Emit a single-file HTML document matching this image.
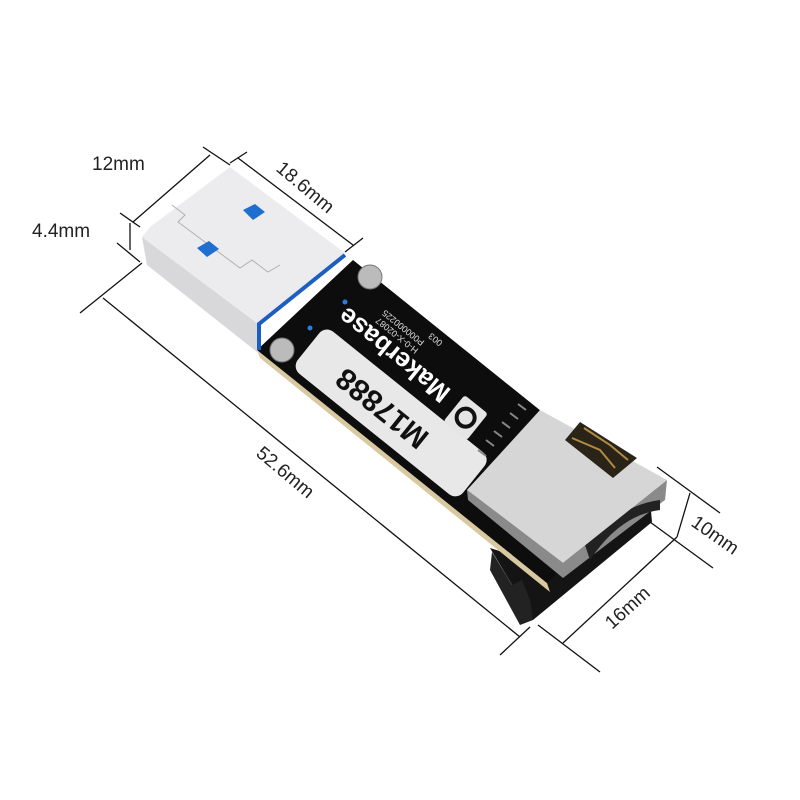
<!DOCTYPE html>
<html><head><style>body{margin:0;background:#fff}svg{display:block}</style></head>
<body>
<svg width="800" height="800" viewBox="0 0 800 800" xmlns="http://www.w3.org/2000/svg" font-family="Liberation Sans, sans-serif">
<rect width="800" height="800" fill="#fff"/>
<g stroke="#111" stroke-width="1.3" fill="none">
<line x1="133" y1="222" x2="210" y2="155"/>
<line x1="203" y1="147" x2="230" y2="165"/>
<line x1="120" y1="213" x2="140" y2="227"/>
<line x1="238" y1="158" x2="353" y2="245"/>
<line x1="230" y1="163" x2="247" y2="152"/>
<line x1="345" y1="252" x2="363" y2="238"/>
<line x1="130" y1="223" x2="130" y2="250"/>
<line x1="117" y1="243" x2="140" y2="262"/>
<line x1="142" y1="263" x2="80" y2="313"/>
<line x1="103" y1="298" x2="520" y2="637"/>
<line x1="500" y1="655" x2="530" y2="627"/>
<line x1="563" y1="643" x2="677" y2="537"/>
<line x1="538" y1="625" x2="600" y2="672"/>
<line x1="650" y1="522" x2="713" y2="568"/>
<line x1="677" y1="537" x2="690" y2="493"/>
<line x1="657" y1="467" x2="720" y2="513"/>
</g>
<g fill="#222" font-size="19">
<text x="92" y="170">12mm</text>
<text x="32" y="237">4.4mm</text>
<text transform="translate(275,170) rotate(40)">18.6mm</text>
<text transform="translate(255,455) rotate(40)">52.6mm</text>
<text transform="translate(690,525) rotate(35)">10mm</text>
<text transform="translate(612,630) rotate(-42)">16mm</text>
</g>
<polygon points="490,548 533,620 652,522 650,500 560,570" fill="#141414"/>
<polygon points="492,552 512,585 522,580 530,600 533,620 520,625 490,570" fill="#222"/>
<polygon points="257,350 547,583 550,592 260,358" fill="#d9c9a0"/>
<polygon points="353,260 257,350 547,583 643,493" fill="#0d0d0d"/>
<polygon points="142,237 257,323 257,352 147,265" fill="#d8d8da"/>
<polygon points="150,227 230,167 345,253 257,323 142,237" fill="#ececee"/>
<polyline points="172,205 185,215 178,222 240,268 252,260 268,272 280,265" stroke="#b0b0b0" stroke-width="1" fill="none"/>
<polygon points="243,210 255,204 265,212 253,220" fill="#1e6fd0"/>
<polygon points="197,248 209,241 219,249 207,257" fill="#1e6fd0"/>
<polyline points="345,255 259,324 259,350" stroke="#1c5fc0" stroke-width="4" fill="none"/>
<circle cx="370" cy="277" r="12" fill="#bbb" stroke="#777"/>
<circle cx="282" cy="350" r="12" fill="#bbb" stroke="#777"/>
<circle cx="345" cy="302" r="2.5" fill="#2a7de0"/>
<circle cx="310" cy="328" r="2.5" fill="#2a7de0"/>
<g transform="translate(257,350) rotate(38.8)">
<rect x="38" y="-62" width="212" height="54" rx="10" fill="#e8e8e8"/>
<text transform="translate(134,-35) rotate(180)" text-anchor="middle" dominant-baseline="middle" font-size="30" font-weight="bold" fill="#111">M17888</text>
<text transform="translate(110,-84) rotate(180)" text-anchor="middle" dominant-baseline="middle" font-size="26" font-weight="bold" fill="#fff">Makerbase</text>
<rect x="190" y="-95" width="30" height="34" rx="3" fill="#e5e5e5"/>
<circle cx="205" cy="-78" r="9" fill="none" stroke="#111" stroke-width="4"/>
<text transform="translate(100,-112) rotate(180)" text-anchor="middle" font-size="9" fill="#ddd">P000000225</text>
<text transform="translate(100,-102) rotate(180)" text-anchor="middle" font-size="9" fill="#ddd">H-0-X-02087</text>
<text transform="translate(140,-123) rotate(180)" font-size="9" fill="#ddd">003</text>
</g>
<g stroke="#888" stroke-width="2">
<line x1="486" y1="456" x2="478" y2="450"/><line x1="494" y1="446" x2="486" y2="440"/>
<line x1="502" y1="437" x2="494" y2="431"/><line x1="510" y1="428" x2="502" y2="422"/>
<line x1="518" y1="419" x2="510" y2="413"/><line x1="526" y1="410" x2="518" y2="404"/>
</g>
<polygon points="467,490 563,563 667,480 665,500 563,578 468,500" fill="#8a8a8a"/>
<path d="M585,545 Q620,505 660,500 L660,510 Q620,515 590,560Z" fill="#222"/>
<polygon points="540,410 667,480 563,563 467,490" fill="#d6d6d6"/>
<polygon points="565,440 580,422 637,458 613,478" fill="#2a2418"/>
<polyline points="572,438 600,450 615,468" stroke="#b08a40" stroke-width="2" fill="none"/>
<polyline points="584,428 610,445 628,460" stroke="#b08a40" stroke-width="2" fill="none"/>
</svg>
</body></html>
